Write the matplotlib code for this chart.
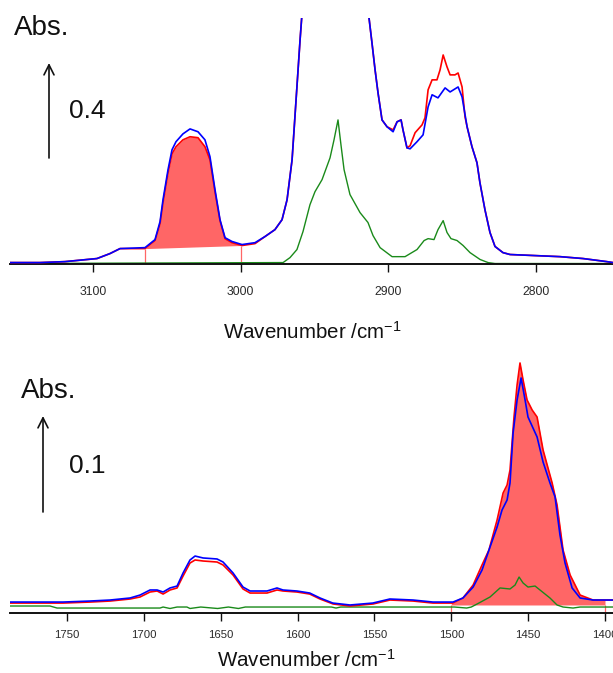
import numpy as np
import matplotlib
matplotlib.use('Agg')
import matplotlib.pyplot as plt

plt.rcParams['font.family'] = ['Liberation Sans', 'DejaVu Sans']
plt.rcParams['mathtext.default'] = 'regular'

# ---------------- data: C-H stretching region (top) ----------------
top_blue_wn = [3156.2, 3135.9, 3119.0, 3097.3, 3088.5, 3081.7, 3064.8, 3058.0, 3054.6, 3052.6,
               3049.2, 3046.5, 3043.8, 3039.1, 3034.3, 3028.9, 3024.2, 3020.8, 3017.4, 3014.0,
               3010.6, 3005.9, 2999.1, 2990.3, 2983.5, 2976.8, 2972.0, 2968.6, 2965.2, 2962.5,
               2959.8, 2955.0, 2945.0, 2930.0, 2920.0, 2915.5, 2913.1, 2911.1, 2909.0, 2907.0,
               2904.3, 2900.9, 2896.8, 2894.1, 2891.4, 2890.1, 2887.4, 2885.3, 2880.6, 2876.5,
               2873.1, 2870.4, 2866.4, 2861.6, 2858.2, 2852.8, 2850.1, 2846.7, 2843.4, 2840.0,
               2838.0, 2834.6, 2831.2, 2827.8, 2822.4, 2817.6, 2783.8, 2768.2, 2752.1, 2747.9]
top_blue_abs = [0.004, 0.004, 0.008, 0.021, 0.042, 0.063, 0.067, 0.101, 0.177, 0.269,
                0.396, 0.480, 0.514, 0.547, 0.568, 0.556, 0.522, 0.451, 0.312, 0.185,
                0.109, 0.093, 0.080, 0.088, 0.114, 0.143, 0.185, 0.269, 0.438, 0.691,
                0.943, 1.35, 1.9, 2.1, 1.6, 1.15, 1.036, 0.931, 0.817, 0.720,
                0.606, 0.577, 0.556, 0.598, 0.606, 0.564, 0.488, 0.484, 0.514, 0.543,
                0.661, 0.712, 0.699, 0.741, 0.724, 0.745, 0.703, 0.577, 0.493, 0.425,
                0.341, 0.227, 0.131, 0.072, 0.046, 0.038, 0.029, 0.021, 0.008, 0.004]

top_red_wn = [3156.2, 3135.9, 3119.0, 3097.3, 3088.5, 3081.7, 3064.8, 3058.0, 3054.6, 3052.6,
              3049.2, 3046.5, 3043.8, 3039.1, 3034.3, 3028.9, 3024.2, 3020.8, 3017.4, 3014.0,
              3010.6, 3005.9, 2999.1, 2990.3, 2983.5, 2976.8, 2972.0, 2968.6, 2965.2, 2962.5,
              2959.8, 2955.0, 2945.0, 2930.0, 2920.0, 2915.5, 2913.1, 2911.1, 2909.0, 2907.0,
              2904.3, 2900.9, 2896.8, 2894.1, 2891.4, 2890.1, 2887.4, 2885.3, 2881.9, 2877.2,
              2875.2, 2873.1, 2870.4, 2867.1, 2865.0, 2862.9, 2860.3, 2858.2, 2854.9, 2852.8,
              2850.1, 2848.1, 2846.7, 2843.4, 2840.0, 2838.0, 2834.6, 2831.2, 2827.8, 2822.4,
              2817.6, 2783.8, 2768.2, 2752.1, 2747.9]
top_red_abs = [0.004, 0.004, 0.008, 0.021, 0.042, 0.063, 0.063, 0.097, 0.168, 0.257,
               0.383, 0.463, 0.493, 0.522, 0.535, 0.531, 0.493, 0.438, 0.303, 0.181,
               0.105, 0.088, 0.076, 0.084, 0.114, 0.143, 0.185, 0.269, 0.438, 0.691,
               0.943, 1.35, 1.9, 2.1, 1.6, 1.15, 1.036, 0.931, 0.817, 0.720,
               0.606, 0.577, 0.564, 0.598, 0.606, 0.564, 0.488, 0.497, 0.552, 0.585,
               0.615, 0.733, 0.775, 0.775, 0.817, 0.880, 0.830, 0.796, 0.796, 0.804,
               0.745, 0.619, 0.577, 0.493, 0.425, 0.341, 0.227, 0.131, 0.072, 0.046,
               0.038, 0.029, 0.021, 0.008, 0.004]

top_green_wn = [3156.2, 2971.3, 2966.6, 2961.9, 2957.8, 2953.1, 2949.7, 2944.9, 2939.5, 2936.8,
                2934.1, 2932.1, 2930.0, 2926.0, 2919.2, 2913.8, 2910.4, 2905.6, 2897.5, 2888.7,
                2880.6, 2875.8, 2873.1, 2869.1, 2866.4, 2862.9, 2860.3, 2857.6, 2853.5, 2849.4,
                2844.7, 2837.9, 2832.5, 2827.8, 2747.9]
top_green_abs = [0.0, 0.004, 0.025, 0.059, 0.135, 0.248, 0.303, 0.354, 0.446, 0.522,
                 0.606, 0.501, 0.396, 0.291, 0.215, 0.173, 0.118, 0.067, 0.029, 0.029,
                 0.059, 0.097, 0.105, 0.101, 0.143, 0.181, 0.131, 0.105, 0.097, 0.076,
                 0.046, 0.017, 0.004, 0.0, 0.0]

top_band_wn = [3064.8, 3000.0]       # integration limits
top_band_base = [0.063, 0.076]        # baseline values at the limits
top_ticks = [3100, 3000, 2900, 2800]
top_xlim = (3156.2, 2747.9)
top_ylim = (-0.002, 1.036)
top_scale_bar = 0.4

# ---------------- data: fingerprint region (bottom) ----------------
bot_blue_wn = [1787.1, 1752.6, 1735.0, 1722.0, 1709.0, 1702.5, 1696.0, 1691.4, 1687.5, 1683.0,
               1678.4, 1674.5, 1670.0, 1666.7, 1661.5, 1652.4, 1648.5, 1642.0, 1635.5, 1630.9,
               1619.9, 1613.4, 1609.5, 1600.4, 1592.1, 1585.4, 1577.1, 1565.9, 1551.1, 1540.0,
               1524.9, 1511.9, 1498.9, 1492.4, 1485.8, 1480.0, 1474.8, 1470.2, 1467.0, 1463.7,
               1461.8, 1459.8, 1457.2, 1454.6, 1452.0, 1450.1, 1444.2, 1440.3, 1435.8, 1432.5,
               1429.3, 1426.0, 1421.4, 1416.2, 1407.8, 1394.8]
bot_blue_abs = [0.0054, 0.0054, 0.0065, 0.0076, 0.0098, 0.0130, 0.0185, 0.0185, 0.0163, 0.0207,
                0.0228, 0.0370, 0.0511, 0.0554, 0.0533, 0.0522, 0.0489, 0.0370, 0.0217, 0.0174,
                0.0174, 0.0207, 0.0185, 0.0174, 0.0152, 0.0098, 0.0043, 0.0022, 0.0043, 0.0087,
                0.0076, 0.0054, 0.0054, 0.0098, 0.0217, 0.0402, 0.0652, 0.0870, 0.1054, 0.1163,
                0.1348, 0.1891, 0.2250, 0.2489, 0.2250, 0.2065, 0.1848, 0.1576, 0.1348, 0.1196,
                0.0783, 0.0478, 0.0207, 0.0098, 0.0076, 0.0076]

bot_red_wn = [1787.1, 1752.6, 1735.0, 1722.0, 1709.0, 1702.5, 1696.0, 1691.4, 1687.5, 1683.0,
              1678.4, 1674.5, 1670.0, 1666.7, 1661.5, 1652.4, 1648.5, 1642.0, 1635.5, 1630.9,
              1619.9, 1613.4, 1609.5, 1600.4, 1592.1, 1585.4, 1576.9, 1565.9, 1550.9, 1539.9,
              1524.9, 1511.9, 1498.9, 1492.4, 1485.8, 1480.0, 1475.5, 1470.2, 1466.3, 1463.7,
              1461.8, 1459.2, 1457.2, 1455.3, 1453.3, 1450.7, 1447.4, 1444.2, 1440.3, 1434.4,
              1431.2, 1427.3, 1422.7, 1416.2, 1407.8, 1394.8]
bot_red_abs = [0.0043, 0.0043, 0.0054, 0.0065, 0.0087, 0.0109, 0.0163, 0.0174, 0.0141, 0.0185,
               0.0207, 0.0337, 0.0478, 0.0511, 0.0500, 0.0489, 0.0457, 0.0348, 0.0196, 0.0152,
               0.0152, 0.0185, 0.0174, 0.0163, 0.0141, 0.0087, 0.0033, 0.0011, 0.0033, 0.0076,
               0.0065, 0.0043, 0.0043, 0.0098, 0.0239, 0.0457, 0.0620, 0.0946, 0.1239, 0.1326,
               0.1489, 0.2065, 0.2413, 0.2652, 0.2467, 0.2250, 0.2141, 0.2065, 0.1707, 0.1348,
               0.1109, 0.0620, 0.0348, 0.0130, 0.0076, 0.0076]

bot_green_wn = [1787.1, 1761.1, 1756.5, 1689.5, 1687.5, 1683.0, 1678.4, 1672.0, 1670.0, 1663.0,
                1652.0, 1645.0, 1638.5, 1634.0, 1578.0, 1575.0, 1572.0, 1498.0, 1490.0, 1487.0,
                1483.2, 1474.8, 1468.3, 1461.8, 1458.5, 1455.9, 1453.3, 1450.1, 1445.5, 1442.3,
                1435.8, 1431.2, 1427.3, 1420.8, 1416.2, 1394.8]
bot_green_abs = [0.0011, 0.0011, -0.0011, -0.0011, 0.0, -0.0016, 0.0, 0.0, -0.0016, 0.0,
                 -0.0016, 0.0, -0.0016, 0.0, 0.0, -0.0011, 0.0, 0.0, -0.0011, 0.0,
                 0.0033, 0.0109, 0.0207, 0.0196, 0.0239, 0.0326, 0.0261, 0.0217, 0.0228, 0.0185,
                 0.0098, 0.0022, 0.0, -0.0011, 0.0, 0.0]

bot_band_wn = [1500.0, 1400.0]
bot_band_base = [0.0022, 0.0022]
bot_ticks = [1750, 1700, 1650, 1600, 1550, 1500, 1450, 1400]
bot_xlim = (1787.1, 1394.8)
bot_ylim = (-0.0065, 0.2793)
bot_scale_bar = 0.1

# ---------------- styling ----------------
C_RED = '#FF0000'
C_BLUE = '#0000FF'
C_GREEN = '#1A8A1A'
C_FILL = '#FF6666'

W, H = 613, 673
fig = plt.figure(figsize=(W / 100, H / 100), dpi=100)


def fx(px):
    return px / W


def fy(py):
    return 1 - py / H


ax1 = fig.add_axes([fx(10), fy(264), 1 - fx(10), fy(18) - fy(264)])
ax2 = fig.add_axes([fx(10), fy(613), 1 - fx(10), fy(350) - fy(613)])


def band_fill(ax, wn, ab, band_wn, band_base):
    wn = np.asarray(wn)
    ab = np.asarray(ab)
    lo, hi = min(band_wn), max(band_wn)
    order = np.argsort(wn)
    inner = wn[(wn > lo) & (wn < hi)]
    xs = np.sort(np.concatenate([[lo, hi], inner]))
    curve = np.interp(xs, wn[order], ab[order])
    bo = np.argsort(band_wn)
    base = np.interp(xs, np.asarray(band_wn)[bo], np.asarray(band_base)[bo])
    ax.fill_between(xs, base, curve, color=C_FILL, lw=0, zorder=1)
    ax.vlines(band_wn, ax.get_ylim()[0], band_base, color=C_FILL, lw=0.9, zorder=1)


def style(ax, ticks, xlim, ylim, tsize, pad):
    ax.set_xlim(*xlim)
    ax.set_ylim(*ylim)
    for s in ['top', 'left', 'right']:
        ax.spines[s].set_visible(False)
    ax.spines['bottom'].set_linewidth(1.4)
    ax.spines['bottom'].set_color('#111111')
    ax.set_yticks([])
    ax.set_xticks(ticks, labels=[str(t) for t in ticks], fontsize=tsize, color='#2a2a2a')
    ax.tick_params(axis='x', direction='out', length=6, width=1.0, pad=pad,
                   color='#111111')
    ax.patch.set_alpha(0)


style(ax1, top_ticks, top_xlim, top_ylim, 8.8, 10)
style(ax2, bot_ticks, bot_xlim, bot_ylim, 8.2, 6.5)

band_fill(ax1, top_red_wn, top_red_abs, top_band_wn, top_band_base)
band_fill(ax2, bot_red_wn, bot_red_abs, bot_band_wn, bot_band_base)

for ax, g, r, b in [
    (ax1, (top_green_wn, top_green_abs), (top_red_wn, top_red_abs), (top_blue_wn, top_blue_abs)),
    (ax2, (bot_green_wn, bot_green_abs), (bot_red_wn, bot_red_abs), (bot_blue_wn, bot_blue_abs)),
]:
    ax.plot(*g, color=C_GREEN, lw=1.0, zorder=2)
    ax.plot(*r, color=C_RED, lw=1.2, zorder=3)
    ax.plot(*b, color=C_BLUE, lw=1.2, zorder=4)

# axis titles
fig.text(fx(312), fy(339), 'Wavenumber /cm$^{-1}$', fontsize=14.8,
         ha='center', va='baseline', color='#111111')
fig.text(fx(306), fy(667), 'Wavenumber /cm$^{-1}$', fontsize=14.8,
         ha='center', va='baseline', color='#111111')

# "Abs." labels and scale arrows
fig.text(fx(14), fy(35), 'Abs.', fontsize=20, ha='left', va='baseline', color='#111111')
fig.text(fx(69), fy(118), f'{top_scale_bar}', fontsize=19, ha='left', va='baseline', color='#111111')
fig.text(fx(21), fy(398), 'Abs.', fontsize=20, ha='left', va='baseline', color='#111111')
fig.text(fx(69), fy(473), f'{bot_scale_bar}', fontsize=19, ha='left', va='baseline', color='#111111')

for xp, y0, y1 in [(49, 158, 63), (43, 512, 416)]:
    fig.add_artist(matplotlib.patches.FancyArrowPatch(
        (fx(xp), fy(y0)), (fx(xp), fy(y1)), transform=fig.transFigure,
        arrowstyle='->', mutation_scale=18, lw=1.2, color='#111111',
        shrinkA=0, shrinkB=0))

fig.savefig('out.png', dpi=100)
